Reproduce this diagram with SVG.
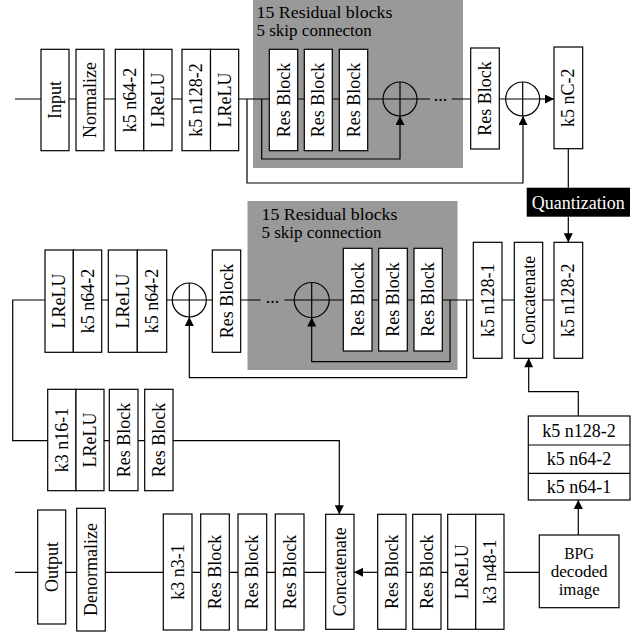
<svg xmlns="http://www.w3.org/2000/svg" width="637" height="634" viewBox="0 0 637 634">
<defs>
<style>
.b{fill:#fff;stroke:#000;stroke-width:1.2}
.g{fill:#999999;stroke:none}
.l{fill:none;stroke:#000;stroke-width:1.2}
.a{fill:none;stroke:#000;stroke-width:1.2;marker-end:url(#arr)}
text{font-family:"Liberation Serif","Times New Roman",serif;font-size:18px;fill:#000}
.v{text-anchor:middle}
.c{text-anchor:middle}
.w{fill:#fff}
.t{font-size:17px}
.s{font-size:16px}
</style>
<marker id="arr" viewBox="0 0 10 10" refX="10" refY="5" markerWidth="10" markerHeight="9" markerUnits="userSpaceOnUse" orient="auto">
<path d="M0,0 L10,5 L0,10 z" fill="#000"/>
</marker>
</defs>
<rect width="637" height="634" fill="#fff"/>

<g id="top-group">
<rect class="g" x="253" y="0" width="210" height="168"/>
<text class="t" x="256.5" y="17.5" textLength="136" lengthAdjust="spacingAndGlyphs">15 Residual blocks</text>
<text class="t" x="256.5" y="35.5">5 skip connecton</text>
</g>
<g id="mid-group">
<rect class="g" x="247.5" y="201" width="210" height="169"/>
<text class="t" x="261.5" y="220" textLength="136" lengthAdjust="spacingAndGlyphs">15 Residual blocks</text>
<text class="t" x="261.5" y="238">5 skip connection</text>
</g>

<g id="connectors">
<path class="l" d="M15,99 H41 M69,99 H76 M104,99 H115.3 M172,99 H182 M238.7,99 H269.3 M297.7,99 H304.3 M332.3,99 H339.3 M367.7,99 H383 M417,99 H430 M451.7,99 H470.7 M499.3,99 H505.7"/>
<path class="a" d="M540,99 H554"/>
<path class="a" d="M261.7,99 V159 H400 V116"/>
<path class="a" d="M247,99 V183 H523 V116"/>
<path class="l" d="M568.3,148.7 V187.7"/>
<path class="a" d="M568.3,216.7 V242.3"/>
<path class="l" d="M554,300 H542.7 M514.3,300 H502 M473.3,300 H442.3 M414,300 H407.3 M378.7,300 H372 M343.3,300 H329 M294,300 H284.3 M260.7,300 H240.7 M212.3,300 H206.3 M172.3,300 H166.7 M108.3,300 H101.7 M45,300 H12.7 V440.7 H47.7"/>
<path class="a" d="M450,300 V361.7 H311.7 V317.5"/>
<path class="a" d="M466.7,300 V377.7 H189.3 V317"/>
<path class="a" d="M578.3,416 V391.7 H528.7 V358.3"/>
<path class="l" d="M104,440.7 H109.3 M138,440.7 H144.7"/>
<path class="a" d="M173,440.7 H339.3 V514.3"/>
<path class="l" d="M15,572.3 H37.7 M65.7,572.3 H76.7 M105.3,572.3 H163.3 M192,572.3 H200.7 M229.3,572.3 H238 M266.7,572.3 H275.3 M304,572.3 H325.7 M406,572.3 H412.7 M441,572.3 H447.7 M539.3,572.3 H504"/>
<path class="a" d="M377.7,572.3 H354"/>
<path class="a" d="M578.3,535 V500"/>
</g>

<text x="440.5" y="101" class="c">...</text>
<text x="272.5" y="303" class="c">...</text>

<g id="input"><rect class="b" x="41" y="49.3" width="28" height="101.4"/><text class="v" transform="translate(55,100) rotate(-90)" y="6">Input</text></g>
<g id="normalize"><rect class="b" x="76" y="49.3" width="28" height="101.4"/><text class="v" transform="translate(90,100) rotate(-90)" y="6">Normalize</text></g>
<g id="k5n64-2-a"><rect class="b" x="115.3" y="49.3" width="28.5" height="101.4"/><text class="v" transform="translate(129.5,100) rotate(-90)" y="6">k5 n64-2</text></g>
<g id="lrelu-a"><rect class="b" x="143.8" y="49.3" width="28.2" height="101.4"/><text class="v" transform="translate(158,100) rotate(-90)" y="6">LReLU</text></g>
<g id="k5n128-2-a"><rect class="b" x="182" y="49.3" width="28.5" height="101.4"/><text class="v" transform="translate(196.3,100) rotate(-90)" y="6">k5 n128-2</text></g>
<g id="lrelu-b"><rect class="b" x="210.5" y="49.3" width="28.2" height="101.4"/><text class="v" transform="translate(224.6,100) rotate(-90)" y="6">LReLU</text></g>
<g id="res-t1"><rect class="b" x="269.3" y="49.3" width="28.4" height="101.4"/><text class="v" transform="translate(283.5,100) rotate(-90)" y="6">Res Block</text></g>
<g id="res-t2"><rect class="b" x="304.3" y="49.3" width="28" height="101.4"/><text class="v" transform="translate(318.3,100) rotate(-90)" y="6">Res Block</text></g>
<g id="res-t3"><rect class="b" x="339.3" y="49.3" width="28.4" height="101.4"/><text class="v" transform="translate(353.5,100) rotate(-90)" y="6">Res Block</text></g>
<g id="sum-t1"><circle class="l" cx="400" cy="99" r="17"/><path class="l" d="M383,99 H417 M400,82 V116"/></g>
<g id="res-t4"><rect class="b" x="470.7" y="48" width="28.6" height="101"/><text class="v" transform="translate(485,98.5) rotate(-90)" y="6">Res Block</text></g>
<g id="sum-t2"><circle class="l" cx="522.7" cy="99" r="17"/><path class="l" d="M505.7,99 H539.7 M522.7,82 V116"/></g>
<g id="k5nC-2"><rect class="b" x="554" y="47" width="28.7" height="101.7"/><text class="v" transform="translate(568.3,97.8) rotate(-90)" y="6">k5 nC-2</text></g>
<g id="quantization"><rect x="526.7" y="187.7" width="103.3" height="29" fill="#000"/><text class="c w" x="578.3" y="208.5">Quantization</text></g>

<g id="lrelu-m1"><rect class="b" x="45" y="250" width="28.3" height="102.3"/><text class="v" transform="translate(59.2,301) rotate(-90)" y="6">LReLU</text></g>
<g id="k5n64-2-m1"><rect class="b" x="73.3" y="250" width="28.4" height="102.3"/><text class="v" transform="translate(87.5,301) rotate(-90)" y="6">k5 n64-2</text></g>
<g id="lrelu-m2"><rect class="b" x="108.3" y="250" width="29" height="102.3"/><text class="v" transform="translate(122.8,301) rotate(-90)" y="6">LReLU</text></g>
<g id="k5n64-2-m2"><rect class="b" x="137.3" y="250" width="29.4" height="102.3"/><text class="v" transform="translate(152,301) rotate(-90)" y="6">k5 n64-2</text></g>
<g id="sum-m1"><circle class="l" cx="189.3" cy="300" r="17"/><path class="l" d="M172.3,300 H206.3 M189.3,283 V317"/></g>
<g id="res-m0"><rect class="b" x="212.3" y="250" width="28.4" height="102.3"/><text class="v" transform="translate(226.5,301) rotate(-90)" y="6">Res Block</text></g>
<g id="sum-m2"><circle class="l" cx="311.7" cy="300" r="17.5"/><path class="l" d="M294.2,300 H329.2 M311.7,282.5 V317.5"/></g>
<g id="res-m1"><rect class="b" x="343.3" y="248.3" width="28.7" height="102.7"/><text class="v" transform="translate(357.6,299.6) rotate(-90)" y="6">Res Block</text></g>
<g id="res-m2"><rect class="b" x="378.7" y="248.3" width="28.6" height="102.7"/><text class="v" transform="translate(393,299.6) rotate(-90)" y="6">Res Block</text></g>
<g id="res-m3"><rect class="b" x="414" y="248.3" width="28.3" height="102.7"/><text class="v" transform="translate(428.1,299.6) rotate(-90)" y="6">Res Block</text></g>
<g id="k5n128-1"><rect class="b" x="473.3" y="242.3" width="28.7" height="116"/><text class="v" transform="translate(487.6,300.3) rotate(-90)" y="6">k5 n128-1</text></g>
<g id="concat-m"><rect class="b" x="514.3" y="242.3" width="28.4" height="116"/><text class="v" transform="translate(528.5,300.3) rotate(-90)" y="6">Concatenate</text></g>
<g id="k5n128-2-m"><rect class="b" x="554" y="242.3" width="28.7" height="116"/><text class="v" transform="translate(568.3,300.3) rotate(-90)" y="6">k5 n128-2</text></g>

<g id="k3n16-1"><rect class="b" x="47.7" y="389.3" width="28.3" height="101.4"/><text class="v" transform="translate(61.8,440) rotate(-90)" y="6">k3 n16-1</text></g>
<g id="lrelu-l"><rect class="b" x="76" y="389.3" width="28" height="101.4"/><text class="v" transform="translate(90,440) rotate(-90)" y="6">LReLU</text></g>
<g id="res-l1"><rect class="b" x="109.3" y="389.3" width="28.7" height="101.4"/><text class="v" transform="translate(123.6,440) rotate(-90)" y="6">Res Block</text></g>
<g id="res-l2"><rect class="b" x="144.7" y="389.3" width="28.3" height="101.4"/><text class="v" transform="translate(158.8,440) rotate(-90)" y="6">Res Block</text></g>

<g id="bpg-encoder">
<rect class="b" x="528.3" y="416" width="101.7" height="84"/>
<path class="l" d="M528.3,445 H630 M528.3,473.3 H630"/>
<text class="c" x="579" y="436.5">k5 n128-2</text>
<text class="c" x="579" y="465">k5 n64-2</text>
<text class="c" x="579" y="492.5">k5 n64-1</text>
</g>

<g id="output"><rect class="b" x="37.7" y="510" width="28" height="114"/><text class="v" transform="translate(51.7,567) rotate(-90)" y="6">Output</text></g>
<g id="denormalize"><rect class="b" x="76.7" y="508.3" width="28.6" height="122.7"/><text class="v" transform="translate(91,569.6) rotate(-90)" y="6">Denormalize</text></g>
<g id="k3n3-1"><rect class="b" x="163.3" y="514" width="28.7" height="116"/><text class="v" transform="translate(177.6,572) rotate(-90)" y="6">k3 n3-1</text></g>
<g id="res-b1"><rect class="b" x="200.7" y="514" width="28.6" height="116"/><text class="v" transform="translate(215,572) rotate(-90)" y="6">Res Block</text></g>
<g id="res-b2"><rect class="b" x="238" y="514" width="28.7" height="116"/><text class="v" transform="translate(252.3,572) rotate(-90)" y="6">Res Block</text></g>
<g id="res-b3"><rect class="b" x="275.3" y="514" width="28.7" height="116"/><text class="v" transform="translate(289.6,572) rotate(-90)" y="6">Res Block</text></g>
<g id="concat-b"><rect class="b" x="325.7" y="514.3" width="28.3" height="115"/><text class="v" transform="translate(339.8,571.8) rotate(-90)" y="6">Concatenate</text></g>
<g id="res-b4"><rect class="b" x="377.7" y="514.3" width="28.3" height="115"/><text class="v" transform="translate(391.8,571.8) rotate(-90)" y="6">Res Block</text></g>
<g id="res-b5"><rect class="b" x="412.7" y="514.3" width="28.3" height="115"/><text class="v" transform="translate(426.8,571.8) rotate(-90)" y="6">Res Block</text></g>
<g id="lrelu-b2"><rect class="b" x="447.7" y="514.3" width="28" height="115"/><text class="v" transform="translate(461.7,571.8) rotate(-90)" y="6">LReLU</text></g>
<g id="k3n48-1"><rect class="b" x="475.7" y="514.3" width="28.3" height="115"/><text class="v" transform="translate(489.8,571.8) rotate(-90)" y="6">k3 n48-1</text></g>
<g id="bpg"><rect class="b" x="539.3" y="535" width="79.7" height="72.7"/>
<text class="c s" x="579.2" y="559" textLength="30" lengthAdjust="spacingAndGlyphs">BPG</text>
<text class="c s" x="579.2" y="577" textLength="57" lengthAdjust="spacingAndGlyphs">decoded</text>
<text class="c s" x="579.2" y="595" textLength="41" lengthAdjust="spacingAndGlyphs">image</text></g>
</svg>
